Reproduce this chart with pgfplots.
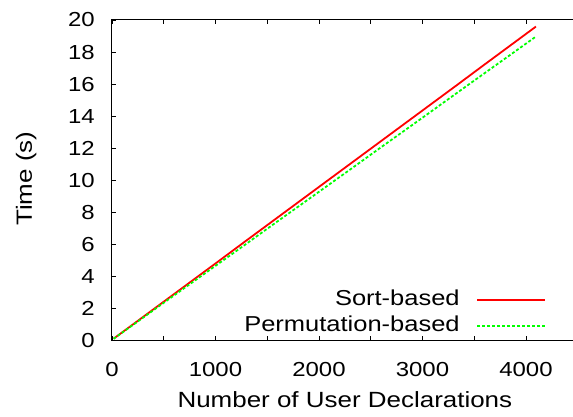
\documentclass[border=0pt]{standalone}
\usepackage{fontspec}
\setmainfont{Liberation Sans}[FakeStretch=1.18]
\usepackage{pgfplots}
\pgfplotsset{compat=1.18}
\newcommand{\tickf}{\fontsize{20.3bp}{24bp}\selectfont}
\newcommand{\legf}{\fontsize{21.6bp}{26bp}\selectfont}
\newcommand{\labf}{\fontsize{22bp}{26bp}\selectfont}
\begin{document}
\begin{tikzpicture}
\begin{axis}[
  at={(0,0)}, anchor=south west,
  scale only axis, width=465.75bp, height=320.7bp,
  xmin=0, xmax=4500, ymin=0, ymax=20,
  xtick={0,1000,...,4000}, minor xtick={500,1500,...,4500},
  ytick={0,2,...,20},
  tick align=inside, major tick length=4.5bp, minor tick length=4.5bp,
  axis line style={black, line width=1bp},
  tick style={black, line width=0.8bp},
  /pgf/number format/assume math mode=true,
  /pgf/number format/set thousands separator={},
  yticklabel style={font=\tickf, anchor=east, inner sep=0pt, xshift=-17bp},
  xticklabel style={font=\tickf, anchor=north, inner sep=0pt, yshift=-21bp},
  xlabel={Number of User Declarations},
  ylabel={Time (s)},
  every axis x label/.style={font=\labf, at={(axis description cs:0.5,0)}, anchor=base, yshift=-67bp},
  every axis y label/.style={font=\labf, at={(axis description cs:0,0.505)}, anchor=base, xshift=-80bp, rotate=90},
  legend plot pos=right,
  legend cell align=right,
  legend image code/.code={\draw[#1] (0bp,0bp) -- (68bp,0bp);},
  legend style={font=\legf, draw=none, fill=none, at={(axis description cs:0.9318,0.160)}, anchor=north east,
    inner sep=0pt, outer sep=0pt, row sep=5.3bp, column sep=16.5bp,
    nodes={inner sep=0pt, text height=16bp, text depth=5bp}},
]
\addplot[red, line width=1.8bp] coordinates {
(16,0.13) (256,1.27) (512,2.49) (768,3.71) (1024,4.93) (1280,6.16) (1536,7.38) (1792,8.60) (2048,9.82) (2304,11.04) (2560,12.26) (2816,13.48) (3072,14.70) (3328,15.92) (3584,17.15) (3840,18.37) (4096,19.59)};
\addlegendentry{Sort-based}
\addplot[green, line width=1.8bp, dash pattern=on 3bp off 2bp] coordinates {
(16,0.12) (256,1.23) (512,2.42) (768,3.60) (1024,4.78) (1280,5.96) (1536,7.15) (1792,8.33) (2048,9.51) (2304,10.69) (2560,11.88) (2816,13.06) (3072,14.24) (3328,15.43) (3584,16.61) (3840,17.79) (4096,18.97)};
\addlegendentry{Permutation-based}
\end{axis}
\pgfresetboundingbox
\path (-112bp,-76.3bp) rectangle (461bp,340.7bp);
\end{tikzpicture}
\end{document}
